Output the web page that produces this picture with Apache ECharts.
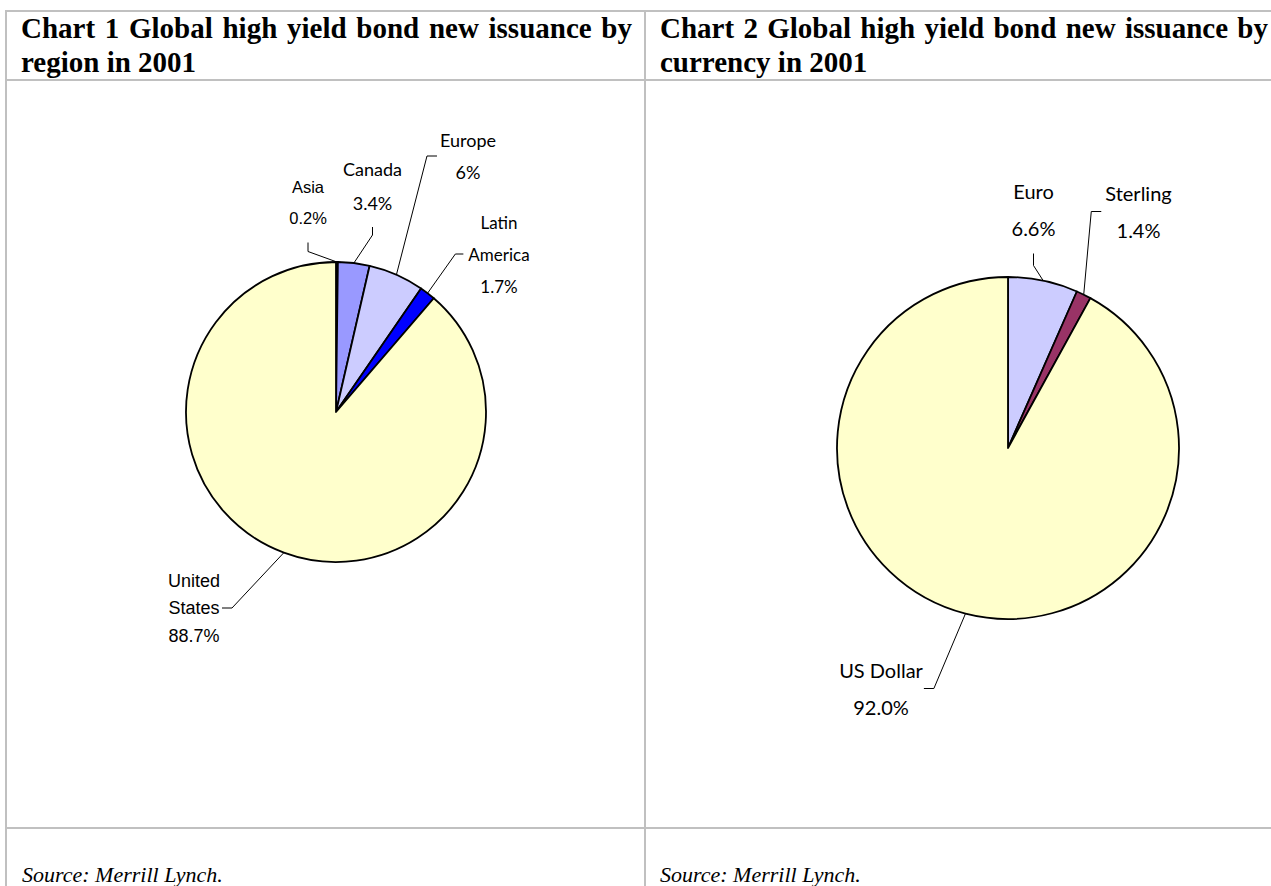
<!DOCTYPE html>
<html>
<head>
<meta charset="utf-8">
<script src="https://cdn.jsdelivr.net/npm/echarts@6/dist/echarts.min.js"></script>
<style>
html,body{margin:0;padding:0;background:#ffffff;}
#main{width:1271px;height:886px;}
</style>
</head>
<body>
<div id="main"></div>
<script>
// ---------- Data ----------
// Chart 1: by region
const regionNames = ['Asia', 'Canada', 'Europe', 'Latin America', 'United States'];
const regionValues = [0.2, 3.4, 6, 1.7, 88.7];
const regionPctLabels = ['0.2%', '3.4%', '6%', '1.7%', '88.7%'];
const regionLabelText = ['Asia', 'Canada', 'Europe', 'Latin\nAmerica', 'United\nStates'];

// Chart 2: by currency
const currencyNames = ['Euro', 'Sterling', 'US Dollar'];
const currencyValues = [6.6, 1.4, 92.0];
const currencyPctLabels = ['6.6%', '1.4%', '92.0%'];
const currencyLabelText = ['Euro', 'Sterling', 'US Dollar'];

// Texts
const title1Line1 = 'Chart 1 Global high yield bond new issuance by';
const title1Line2 = 'region in 2001';
const title2Line1 = 'Chart 2 Global high yield bond new issuance by';
const title2Line2 = 'currency in 2001';
const sourceText = 'Source: Merrill Lynch.';

// ---------- Styles / layout ----------
const regionColors = ['#CCFFFF', '#9999FF', '#CCCCFF', '#0000FF', '#FFFFCC'];
const currencyColors = ['#CCCCFF', '#993366', '#FFFFCC'];

const regionLabelStyle = [
  { fontFamily: 'Liberation Sans', fontSize: 16.5, lineHeight: 31 },
  { fontFamily: 'Lato', fontSize: 18, lineHeight: 34 },
  { fontFamily: 'Lato', fontSize: 18, lineHeight: 32 },
  { fontFamily: 'Lato', fontSize: 17, lineHeight: 32 },
  { fontFamily: 'Liberation Sans', fontSize: 18, lineHeight: 27.5 }
];
const regionLabelPos = [
  { x: 308, y: 202.5, side: 'bottom', gap: 9, elbow: 9 },
  { x: 372.5, y: 186, side: 'bottom', gap: 7, elbow: 8 },
  { x: 468, y: 156, side: 'left', gap: 3, elbow: 10 },
  { x: 499, y: 254, side: 'left', gap: 5, elbow: 8 },
  { x: 194, y: 608, side: 'right', gap: 2, elbow: 10 }
];
const currencyLabelStyle = [
  { fontFamily: 'Lato', fontSize: 20, lineHeight: 37 },
  { fontFamily: 'Lato', fontSize: 20, lineHeight: 37 },
  { fontFamily: 'Lato', fontSize: 20, lineHeight: 37 }
];
const currencyLabelPos = [
  { x: 1033.5, y: 209.5, side: 'bottom', gap: 7, elbow: 12 },
  { x: 1138.5, y: 211.5, side: 'left', gap: 4, elbow: 10 },
  { x: 881, y: 688.5, side: 'right', gap: 1, elbow: 10 }
];

const gridColor = '#c0c0c0';
const titleSize = 29;

// ---------- Helpers ----------
function makeLayout(cfg) {
  return function (params) {
    const c = cfg[params.dataIndex];
    const w = params.labelRect.width, h = params.labelRect.height;
    const p0 = params.labelLinePoints ? params.labelLinePoints[0] : null;
    let end, elbow;
    if (c.side === 'bottom') {
      end = [c.x, c.y + h / 2 + c.gap];
      elbow = [end[0], end[1] + c.elbow];
    } else if (c.side === 'left') {
      end = [c.x - w / 2 - c.gap, c.y];
      elbow = [end[0] - c.elbow, end[1]];
    } else {
      end = [c.x + w / 2 + c.gap, c.y];
      elbow = [end[0] + c.elbow, end[1]];
    }
    const out = { x: c.x, y: c.y, align: 'center', verticalAlign: 'middle' };
    if (p0) out.labelLinePoints = [p0, elbow, end];
    return out;
  };
}

function justifiedTitle(line1, line2, width, size) {
  const ctx = document.createElement('canvas').getContext('2d');
  ctx.font = 'bold ' + size + 'px "Liberation Serif"';
  const words = line1.split(' ');
  const total = words.reduce((s, w) => s + ctx.measureText(w).width, 0);
  const gap = Math.max(size * 0.2, (width - total) / (words.length - 1));
  return { text: words.join('{s| }') + '\n' + line2, gap: gap };
}

function titleGraphic(x, line1, line2, width) {
  const t = justifiedTitle(line1, line2, width, titleSize);
  return {
    type: 'text', x: x, y: 11, silent: true,
    style: {
      text: t.text,
      fontFamily: 'Liberation Serif', fontWeight: 'bold', fontSize: titleSize,
      lineHeight: 34, fill: '#000', align: 'left', verticalAlign: 'top',
      rich: { s: { width: t.gap, fontFamily: 'Liberation Serif', fontWeight: 'bold', fontSize: titleSize, lineHeight: 34 } }
    }
  };
}

function line(x1, y1, x2, y2) {
  return { type: 'line', silent: true, shape: { x1, y1, x2, y2 }, style: { stroke: gridColor, lineWidth: 2 } };
}

function pieData(names, values, colors, styles) {
  return names.map((n, i) => ({
    name: n, value: values[i],
    itemStyle: { color: colors[i] },
    label: styles[i]
  }));
}

// ---------- Chart ----------
const chart = echarts.init(document.getElementById('main'), null, { renderer: 'svg', width: 1271, height: 886 });

const option = {
  backgroundColor: '#ffffff',
  animation: false,
  graphic: [
    line(6, 11, 1271, 11),
    line(6, 80, 1271, 80),
    line(6, 828, 1271, 828),
    line(6, 10, 6, 886),
    line(645, 10, 645, 886),
    titleGraphic(21, title1Line1, title1Line2, 611),
    titleGraphic(660, title2Line1, title2Line2, 608),
    { type: 'text', x: 22, y: 874, silent: true,
      style: { text: sourceText, fontFamily: 'Liberation Serif', fontStyle: 'italic', fontSize: 22, fill: '#000', verticalAlign: 'middle' } },
    { type: 'text', x: 660, y: 874, silent: true,
      style: { text: sourceText, fontFamily: 'Liberation Serif', fontStyle: 'italic', fontSize: 22, fill: '#000', verticalAlign: 'middle' } }
  ],
  series: [
    {
      type: 'pie',
      center: [336, 412],
      radius: 150,
      startAngle: 90,
      clockwise: true,
      avoidLabelOverlap: false,
      emphasis: { disabled: true },
      itemStyle: { borderColor: '#000', borderWidth: 1.8 },
      label: {
        show: true, position: 'outside', color: '#000',
        formatter: (p) => regionLabelText[p.dataIndex] + '\n' + regionPctLabels[p.dataIndex]
      },
      labelLine: { show: true, length: 10, length2: 10, smooth: false, lineStyle: { color: '#000', width: 1 } },
      labelLayout: makeLayout(regionLabelPos),
      data: pieData(regionNames, regionValues, regionColors, regionLabelStyle)
    },
    {
      type: 'pie',
      center: [1008, 448],
      radius: 171,
      startAngle: 90,
      clockwise: true,
      avoidLabelOverlap: false,
      emphasis: { disabled: true },
      itemStyle: { borderColor: '#000', borderWidth: 1.8 },
      label: {
        show: true, position: 'outside', color: '#000',
        formatter: (p) => currencyLabelText[p.dataIndex] + '\n' + currencyPctLabels[p.dataIndex]
      },
      labelLine: { show: true, length: 10, length2: 10, smooth: false, lineStyle: { color: '#000', width: 1 } },
      labelLayout: makeLayout(currencyLabelPos),
      data: pieData(currencyNames, currencyValues, currencyColors, currencyLabelStyle)
    }
  ]
};
chart.setOption(option);
</script>
</body>
</html>
